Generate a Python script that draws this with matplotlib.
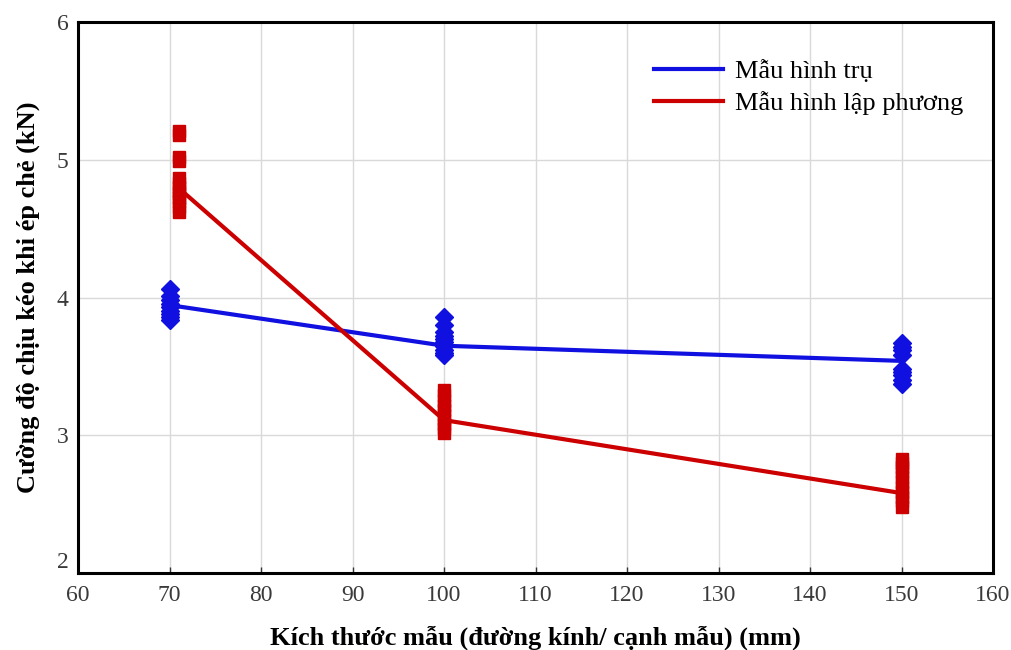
import matplotlib
matplotlib.use("Agg")
import matplotlib.pyplot as plt

# measured values per specimen size
cyl_x = [70, 100, 150]
cyl_pts = [
    [4.06, 4.01, 3.98, 3.95, 3.93, 3.90, 3.88, 3.86, 3.84],
    [3.86, 3.80, 3.75, 3.72, 3.70, 3.68, 3.65, 3.62, 3.60, 3.58],
    [3.67, 3.64, 3.62, 3.58, 3.48, 3.46, 3.44, 3.40, 3.37],
]
cyl_mean = [3.945, 3.65, 3.54]

cube_x = [71, 100, 150]
cube_pts = [
    [5.21, 5.18, 5.02, 4.99, 4.87, 4.83, 4.80, 4.77, 4.75, 4.72, 4.70, 4.66, 4.62],
    [3.33, 3.29, 3.25, 3.21, 3.18, 3.15, 3.11, 3.08, 3.05, 3.02],
    [2.83, 2.80, 2.77, 2.74, 2.70, 2.66, 2.62, 2.59, 2.55, 2.52, 2.48],
]
cube_mean = [4.795, 3.11, 2.58]

BLUE = "#1010e0"
RED = "#cc0000"
SERIF = ["Liberation Serif", "DejaVu Serif"]

fig = plt.figure(figsize=(10.11, 6.5), dpi=100)
ax = fig.add_axes([0.0772, 0.1185, 0.905, 0.8475])

for x, ys in zip(cyl_x, cyl_pts):
    ax.plot([x] * len(ys), ys, linestyle="none", marker="D", markersize=9.5,
            color=BLUE, zorder=3)
for x, ys in zip(cube_x, cube_pts):
    ax.plot([x] * len(ys), ys, linestyle="none", marker="s", markersize=9,
            color=RED, zorder=3)

ax.plot(cyl_x, cyl_mean, color=BLUE, linewidth=3, label="Mẫu hình trụ", zorder=4)
ax.plot(cube_x, cube_mean, color=RED, linewidth=3, label="Mẫu hình lập phương", zorder=4)

ax.set_xlim(60, 160)
ax.set_ylim(2, 6)
ax.set_xticks(range(60, 161, 10))
ax.set_yticks([2, 3, 4, 5, 6])
ax.grid(True, color="#d9d9d9", linewidth=1)
ax.set_axisbelow(True)
for s in ax.spines.values():
    s.set_linewidth(2.2)
    s.set_color("black")
ax.tick_params(axis="x", direction="in", length=4, width=1, color="#333333",
               labelsize=17, labelcolor="#3a3a3a", pad=9)
ax.tick_params(axis="y", length=0, labelsize=17, labelcolor="#3a3a3a", pad=7)
for lab in ax.get_xticklabels() + ax.get_yticklabels():
    lab.set_family(SERIF)
# lift the bottom y label slightly, as in the original
ax.get_yticklabels()[0].set_verticalalignment("bottom")

ax.set_xlabel("Kích thước mẫu (đường kính/ cạnh mẫu) (mm)", family=SERIF,
              fontsize=19, fontweight="bold", labelpad=14)
ax.set_ylabel("Cường độ chịu kéo khi ép chẻ (kN)", family=SERIF,
              fontsize=19, fontweight="bold", labelpad=12)

leg = ax.legend(loc="upper right", bbox_to_anchor=(0.993, 0.975), frameon=False,
                prop={"family": SERIF, "size": 19}, handlelength=2.6,
                labelspacing=0.3, handletextpad=0.45)

fig.savefig("out.png", dpi=100, facecolor="white")
